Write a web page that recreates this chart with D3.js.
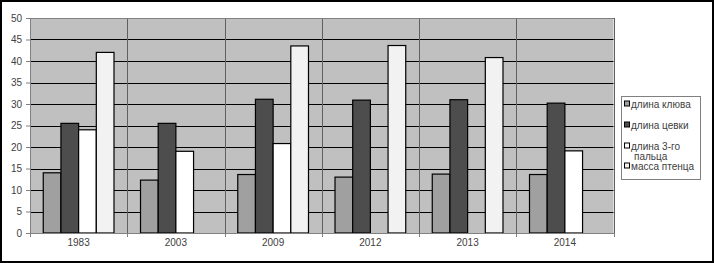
<!DOCTYPE html>
<html>
<head>
<meta charset="utf-8">
<script src="https://cdn.jsdelivr.net/npm/d3@7"></script>
<style>
  body { margin: 0; background: #fff; }
  svg { display: block; font-family: Arial, "Liberation Sans", sans-serif; }
</style>
</head>
<body>
<svg id="chart" width="714" height="263"></svg>
<script>
// данные
const years = ["1983", "2003", "2009", "2012", "2013", "2014"];
const seriesNames = ["длина клюва", "длина цевки", "длина 3-го пальца", "масса птенца"];
const beak   = [14.0, 12.3, 13.6, 13.0, 13.7, 13.6];
const tarsus = [25.5, 25.5, 31.1, 30.9, 31.0, 30.2];
const toe    = [24.0, 19.0, 20.8, null, null, 19.1];
const mass   = [42.0, null, 43.5, 43.6, 40.8, null];
const yTicks = [0, 5, 10, 15, 20, 25, 30, 35, 40, 45, 50];

const colors = ["#a0a0a0", "#4d4d4d", "#ffffff", "#f2f2f2"];
const allSeries = [beak, tarsus, toe, mass];
const textColor = "#404040";

const svg = d3.select("#chart");
const W = 714, H = 263;

// внешняя рамка
svg.append("rect")
  .attr("x", 1).attr("y", 1)
  .attr("width", W - 2).attr("height", H - 2)
  .attr("fill", "#fff")
  .attr("stroke", "#000")
  .attr("stroke-width", 2);

const pLeft = 30, pRight = 613.5, pTop = 18, pBottom = 233;

const x = d3.scaleBand().domain(years).range([pLeft, pRight]).paddingInner(0).paddingOuter(0);
const x1 = d3.scaleBand().domain(d3.range(4)).range([0, x.bandwidth()]).paddingOuter(0.75).paddingInner(0);
const y = d3.scaleLinear().domain([0, 50]).range([pBottom, pTop]);

// фон области построения
svg.append("rect")
  .attr("x", pLeft).attr("y", pTop)
  .attr("width", pRight - pLeft).attr("height", pBottom - pTop)
  .attr("fill", "#c0c0c0");

// горизонтальная сетка
svg.append("g")
  .selectAll("line")
  .data(yTicks.slice(1))
  .join("line")
  .attr("x1", pLeft).attr("x2", pRight)
  .attr("y1", d => Math.round(y(d)) + 0.5)
  .attr("y2", d => Math.round(y(d)) + 0.5)
  .attr("stroke", "#000")
  .attr("stroke-width", 1);

// вертикальная сетка
svg.append("g")
  .selectAll("line")
  .data(d3.range(1, years.length + 1))
  .join("line")
  .attr("x1", i => Math.round(pLeft + i * x.bandwidth()) + 0.5)
  .attr("x2", i => Math.round(pLeft + i * x.bandwidth()) + 0.5)
  .attr("y1", pTop).attr("y2", pBottom)
  .attr("stroke", "#606060")
  .attr("stroke-width", 1);

// рамка сверху области
svg.append("line")
  .attr("x1", pLeft).attr("x2", pRight)
  .attr("y1", pTop + 0.5).attr("y2", pTop + 0.5)
  .attr("stroke", "#808080");

// столбцы
const groups = svg.append("g")
  .selectAll("g")
  .data(years)
  .join("g")
  .attr("transform", d => `translate(${x(d)},0)`);

groups.selectAll("rect")
  .data((d, i) => allSeries.map((s, k) => ({ k, v: s[i] })).filter(e => e.v != null))
  .join("rect")
  .attr("x", d => x1(d.k))
  .attr("y", d => y(d.v))
  .attr("width", x1.bandwidth())
  .attr("height", d => y(0) - y(d.v))
  .attr("fill", d => colors[d.k])
  .attr("stroke", "#000")
  .attr("stroke-width", 1.2);

// оси
const yAxis = svg.append("g")
  .attr("transform", `translate(${pLeft},0)`)
  .call(d3.axisLeft(y).tickValues(yTicks).tickSize(4).tickSizeOuter(0));
yAxis.select(".domain").attr("stroke", "#808080");
yAxis.selectAll(".tick line").attr("stroke", "#808080");
yAxis.selectAll("text").attr("fill", textColor).attr("font-size", 10).attr("dx", -1);

const xAxis = svg.append("g")
  .attr("transform", `translate(0,${pBottom})`)
  .call(d3.axisBottom(x).tickSize(0).tickSizeOuter(0));
xAxis.select(".domain").attr("stroke", "#808080");
xAxis.selectAll("text").attr("fill", textColor).attr("font-size", 10).attr("dy", "0.95em");

// засечки категорий
svg.append("g")
  .selectAll("line")
  .data(d3.range(years.length + 1))
  .join("line")
  .attr("x1", i => Math.round(pLeft + i * x.bandwidth()) + 0.5)
  .attr("x2", i => Math.round(pLeft + i * x.bandwidth()) + 0.5)
  .attr("y1", pBottom).attr("y2", pBottom + 4)
  .attr("stroke", "#808080");

// легенда
const legend = svg.append("g");
legend.append("rect")
  .attr("x", 621.5).attr("y", 96.5)
  .attr("width", 79).attr("height", 83)
  .attr("fill", "#fff")
  .attr("stroke", "#808080");

const legendRows = [
  { k: 0, lines: ["длина клюва"], y: 104 },
  { k: 1, lines: ["длина цевки"], y: 125 },
  { k: 2, lines: ["длина 3-го", "пальца"], y: 146 },
  { k: 3, lines: ["масса птенца"], y: 166 }
];
legendRows.forEach(r => {
  legend.append("rect")
    .attr("x", 624.5).attr("y", r.y - 3)
    .attr("width", 5).attr("height", 5)
    .attr("fill", colors[r.k])
    .attr("stroke", "#000")
    .attr("stroke-width", 1);
  r.lines.forEach((t, j) => {
    legend.append("text")
      .attr("x", j === 0 ? 631 : 634)
      .attr("y", r.y + j * 10 + 3.5)
      .attr("font-size", 10)
      .attr("fill", textColor)
      .text(t);
  });
});
</script>
</body>
</html>
